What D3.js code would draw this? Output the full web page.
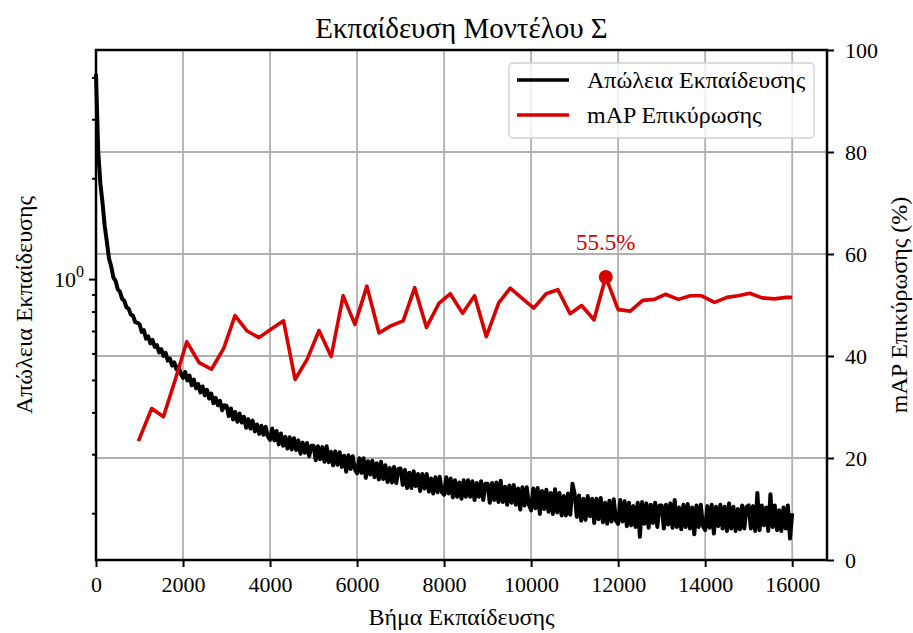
<!DOCTYPE html>
<html>
<head>
<meta charset="utf-8">
<script src="https://cdn.jsdelivr.net/npm/d3@7"></script>
<style>
  body { margin: 0; background: #fff; }
  svg { font-family: "Liberation Serif", "Times New Roman", "DejaVu Serif", serif; }
  .grid line { stroke: #b0b0b0; stroke-width: 1.8; }
</style>
</head>
<body>
<div id="graph"></div>
<script>
// training loss, logged every 50 steps (0 .. 16000)
var lossEvery = 50;
var lossValues = [
  4.10, 2.42, 1.93, 1.69, 1.44, 1.29, 1.15, 1.09, 1.01, 0.988, 0.932, 0.918, 0.873, 0.862, 0.824, 0.816, 0.783, 0.778, 0.744, 0.741,
  0.734, 0.695, 0.704, 0.664, 0.674, 0.643, 0.658, 0.627, 0.635, 0.604, 0.618, 0.590, 0.602, 0.571, 0.579, 0.552, 0.564, 0.537, 0.548, 0.521,
  0.507, 0.528, 0.498, 0.515, 0.482, 0.501, 0.472, 0.486, 0.459, 0.478, 0.450, 0.467, 0.440, 0.455, 0.426, 0.442, 0.420, 0.433, 0.406, 0.420,
  0.419, 0.390, 0.411, 0.381, 0.401, 0.375, 0.397, 0.373, 0.388, 0.360, 0.382, 0.358, 0.378, 0.351, 0.368, 0.345, 0.365, 0.343, 0.362, 0.339,
  0.331, 0.358, 0.330, 0.352, 0.321, 0.346, 0.318, 0.338, 0.312, 0.337, 0.310, 0.335, 0.309, 0.330, 0.301, 0.325, 0.303, 0.324, 0.296, 0.318,
  0.318, 0.288, 0.317, 0.290, 0.315, 0.285, 0.317, 0.284, 0.305, 0.278, 0.306, 0.279, 0.304, 0.275, 0.297, 0.266, 0.298, 0.271, 0.296, 0.270,
  0.263, 0.292, 0.264, 0.292, 0.255, 0.286, 0.261, 0.287, 0.256, 0.282, 0.252, 0.285, 0.253, 0.278, 0.248, 0.273, 0.247, 0.275, 0.246, 0.271,
  0.272, 0.243, 0.269, 0.238, 0.264, 0.238, 0.267, 0.241, 0.262, 0.233, 0.262, 0.237, 0.262, 0.232, 0.254, 0.229, 0.256, 0.231, 0.257, 0.231,
  0.227, 0.256, 0.229, 0.254, 0.223, 0.251, 0.224, 0.247, 0.221, 0.251, 0.224, 0.251, 0.224, 0.249, 0.219, 0.246, 0.224, 0.249, 0.219, 0.245,
  0.245, 0.215, 0.246, 0.219, 0.247, 0.216, 0.250, 0.216, 0.240, 0.212, 0.242, 0.215, 0.243, 0.212, 0.237, 0.205, 0.239, 0.211, 0.239, 0.212,
  0.204, 0.237, 0.207, 0.238, 0.199, 0.233, 0.206, 0.235, 0.202, 0.230, 0.199, 0.236, 0.201, 0.230, 0.197, 0.225, 0.197, 0.229, 0.198, 0.245,
  0.228, 0.195, 0.226, 0.190, 0.221, 0.191, 0.225, 0.196, 0.221, 0.187, 0.221, 0.192, 0.222, 0.188, 0.215, 0.186, 0.218, 0.189, 0.220, 0.190,
  0.186, 0.219, 0.189, 0.217, 0.183, 0.215, 0.184, 0.210, 0.182, 0.215, 0.170, 0.216, 0.186, 0.214, 0.181, 0.212, 0.187, 0.215, 0.182, 0.211,
  0.211, 0.180, 0.212, 0.185, 0.214, 0.181, 0.219, 0.182, 0.208, 0.179, 0.212, 0.182, 0.213, 0.180, 0.208, 0.173, 0.211, 0.182, 0.212, 0.183,
  0.178, 0.210, 0.181, 0.212, 0.174, 0.209, 0.183, 0.212, 0.180, 0.209, 0.177, 0.214, 0.180, 0.209, 0.177, 0.206, 0.179, 0.211, 0.180, 0.209,
  0.211, 0.180, 0.210, 0.177, 0.230, 0.178, 0.211, 0.184, 0.208, 0.177, 0.228, 0.182, 0.211, 0.178, 0.204, 0.177, 0.208, 0.180, 0.211, 0.168,
  0.200
];

// validation mAP (%)
var mapSteps = [975, 1280, 1550, 1830, 2085, 2370, 2655, 2935, 3195, 3475, 3745, 4030, 4310, 4575, 4855, 5125, 5405, 5680, 5950, 6225,
  6505, 6775, 7060, 7325, 7595, 7880, 8140, 8425, 8700, 8970, 9255, 9520, 9795, 10060, 10345, 10615, 10895, 11160, 11445, 11715,
  12000, 12280, 12565, 12830, 13085, 13385, 13660, 13920, 14215, 14500, 14755, 15025, 15310, 15585, 15870, 16000];
var mapValues = [23.3, 29.7, 28.1, 35.6, 42.8, 38.7, 37.4, 41.5, 47.9, 44.9, 43.6, 45.3, 46.9, 35.4, 39.4, 45.0, 39.9, 51.8, 46.2, 53.7,
  44.5, 45.9, 46.9, 53.4, 45.6, 50.3, 52.2, 48.4, 51.8, 43.8, 50.4, 53.3, 51.3, 49.4, 52.2, 53.0, 48.3, 49.9, 47.1, 55.5,
  49.1, 48.8, 50.9, 51.1, 52.1, 51.1, 51.8, 51.8, 50.5, 51.5, 51.8, 52.3, 51.4, 51.2, 51.5, 51.5];

// tick values
var xTicks = [0, 2000, 4000, 6000, 8000, 10000, 12000, 14000, 16000];
var yRightTicks = [0, 20, 40, 60, 80, 100];
var yLeftMinor = [0.2, 0.3, 0.4, 0.5, 0.6, 0.7, 0.8, 0.9, 2, 3, 4];

var titleText = 'Εκπαίδευση Μοντέλου Σ';
var xLabel = 'Βήμα Εκπαίδευσης';
var yLeftLabel = 'Απώλεια Εκπαίδευσης';
var yRightLabel = 'mAP Επικύρωσης (%)';
var legendLabels = ['Απώλεια Εκπαίδευσης', 'mAP Επικύρωσης'];

var lossColor = '#000000';
var mapColor = '#d80000';

// fixed size graph
var W = 913, H = 633;
var margin = {top: 50, right: 86, bottom: 73, left: 96};
var width = W - margin.left - margin.right;
var height = H - margin.top - margin.bottom;

var x = d3.scaleLinear().domain([0, 16800]).range([0, width]);
var yLoss = d3.scaleLog().domain([0.145, 4.83]).range([height, 0]);
var yMap = d3.scaleLinear().domain([0, 100]).range([height, 0]);

var svg = d3.select('#graph')
  .append('svg')
  .attr('width', W)
  .attr('height', H)
.append('g')
  .attr('transform', 'translate(' + margin.left + ',' + margin.top + ')');

// grid (x ticks + right axis ticks)
var grid = svg.append('g').attr('class', 'grid');
grid.selectAll('.gx')
  .data(xTicks.filter(function(d) { return d > 0; }))
  .enter().append('line')
    .attr('x1', function(d) { return x(d); })
    .attr('x2', function(d) { return x(d); })
    .attr('y1', 0)
    .attr('y2', height);
grid.selectAll('.gy')
  .data(yRightTicks.filter(function(d) { return d > 0 && d < 100; }))
  .enter().append('line')
    .attr('x1', 0)
    .attr('x2', width)
    .attr('y1', function(d) { return yMap(d); })
    .attr('y2', function(d) { return yMap(d); });

// loss line
var lossData = lossValues.map(function(v, i) { return {step: i * lossEvery, value: v}; });
var lossLine = d3.line()
  .x(function(d) { return x(d.step); })
  .y(function(d) { return yLoss(d.value); });

svg.append('path')
  .datum(lossData)
  .attr('fill', 'none')
  .attr('stroke', lossColor)
  .attr('stroke-width', 4)
  .attr('stroke-linejoin', 'round')
  .attr('d', lossLine);

// mAP line
var mapData = mapSteps.map(function(s, i) { return {step: s, value: mapValues[i]}; });
var mapLine = d3.line()
  .x(function(d) { return x(d.step); })
  .y(function(d) { return yMap(d.value); });

svg.append('path')
  .datum(mapData)
  .attr('fill', 'none')
  .attr('stroke', mapColor)
  .attr('stroke-width', 3.6)
  .attr('stroke-linejoin', 'round')
  .attr('d', mapLine);

// best mAP marker + label
var best = mapData[d3.maxIndex(mapData, function(d) { return d.value; })];
svg.append('circle')
  .attr('cx', x(best.step))
  .attr('cy', yMap(best.value))
  .attr('r', 7)
  .attr('fill', mapColor);
svg.append('text')
  .attr('x', x(best.step))
  .attr('y', yMap(best.value) - 27)
  .attr('text-anchor', 'middle')
  .attr('fill', mapColor)
  .style('font-size', '23px')
  .text(best.value.toFixed(1) + '%');

// axes
var xAxis = svg.append('g')
  .attr('transform', 'translate(0,' + height + ')')
  .call(d3.axisBottom(x).tickValues(xTicks).tickFormat(d3.format('d')).tickSizeOuter(0).tickSize(7).tickPadding(9));

var yLeftAxis = svg.append('g')
  .call(d3.axisLeft(yLoss).tickValues([1]).tickSize(7).tickSizeOuter(0).tickFormat(''));
var yLeftMinorAxis = svg.append('g')
  .call(d3.axisLeft(yLoss).tickValues(yLeftMinor).tickSize(4).tickSizeOuter(0).tickFormat(''));

var yRightAxis = svg.append('g')
  .attr('transform', 'translate(' + width + ',0)')
  .call(d3.axisRight(yMap).tickValues(yRightTicks).tickSize(7).tickSizeOuter(0).tickPadding(11));

[xAxis, yLeftAxis, yLeftMinorAxis, yRightAxis].forEach(function(a) {
  a.attr('font-family', null).attr('font-size', null);
  a.select('.domain').remove();
  a.selectAll('line').attr('stroke', '#000').attr('stroke-width', 2);
  a.selectAll('text').attr('fill', '#000').style('font-size', '22px');
});

// 10^0 label
var lbl = svg.append('text')
  .attr('x', -12)
  .attr('y', yLoss(1) + 8)
  .attr('text-anchor', 'end')
  .style('font-size', '22px');
lbl.append('tspan').text('10');
lbl.append('tspan').attr('dy', -10).style('font-size', '16px').text('0');

// frame
svg.append('rect')
  .attr('width', width)
  .attr('height', height)
  .attr('fill', 'none')
  .attr('stroke', '#000')
  .attr('stroke-width', 2.5);

// labels
svg.append('text')
  .attr('x', width / 2)
  .attr('y', -12)
  .attr('text-anchor', 'middle')
  .style('font-size', '29px')
  .text(titleText);

svg.append('text')
  .attr('x', width / 2)
  .attr('y', height + 65)
  .attr('text-anchor', 'middle')
  .style('font-size', '24px')
  .text(xLabel);

svg.append('text')
  .attr('transform', 'translate(' + (-64) + ',' + (height / 2) + ') rotate(-90)')
  .attr('text-anchor', 'middle')
  .style('font-size', '24px')
  .text(yLeftLabel);

svg.append('text')
  .attr('transform', 'translate(' + (width + 80) + ',' + (height / 2) + ') rotate(-90)')
  .attr('text-anchor', 'middle')
  .style('font-size', '24px')
  .text(yRightLabel);

// legend
var legend = svg.append('g')
  .attr('transform', 'translate(' + (width - 318) + ',13)');
legend.append('rect')
  .attr('width', 305)
  .attr('height', 75)
  .attr('rx', 4)
  .attr('fill', '#fff')
  .attr('fill-opacity', 0.8)
  .attr('stroke', '#d0d0d0')
  .attr('stroke-width', 1.3);

var items = legend.selectAll('.item')
  .data([lossColor, mapColor])
  .enter().append('g')
    .attr('transform', function(d, i) { return 'translate(0,' + (17 + i * 35) + ')'; });
items.append('line')
  .attr('x1', 8)
  .attr('x2', 60)
  .attr('stroke', function(d) { return d; })
  .attr('stroke-width', 3.6);
items.append('text')
  .attr('x', 78)
  .attr('y', 8)
  .style('font-size', '24px')
  .text(function(d, i) { return legendLabels[i]; });
</script>
</body>
</html>
